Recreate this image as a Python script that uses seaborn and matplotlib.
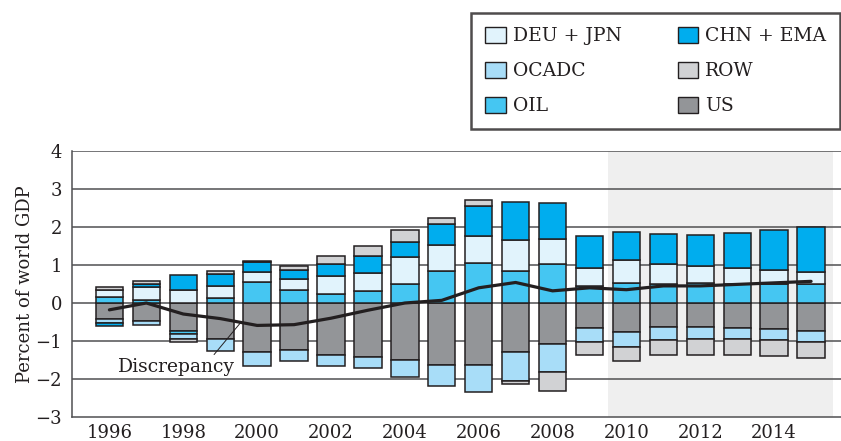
import numpy as np
import pandas as pd
import matplotlib
matplotlib.use("Agg")
import matplotlib.pyplot as plt
from matplotlib.patches import Patch
import seaborn as sns

# Current-account balances by region, percent of world GDP
years = list(range(1996, 2016))

us = [-0.42, -0.48, -0.73, -0.96, -1.29, -1.24, -1.38, -1.41, -1.51, -1.64,
      -1.63, -1.29, -1.09, -0.65, -0.76, -0.62, -0.62, -0.66, -0.69, -0.74]
oil = [0.16, 0.09, -0.08, 0.13, 0.54, 0.34, 0.23, 0.32, 0.49, 0.85,
       1.04, 0.84, 1.03, 0.45, 0.53, 0.50, 0.52, 0.49, 0.50, 0.50]
ocadc = [-0.10, -0.09, -0.13, -0.31, -0.37, -0.29, -0.27, -0.29, -0.43, -0.55,
         -0.70, -0.77, -0.73, -0.37, -0.39, -0.35, -0.33, -0.29, -0.29, -0.29]
deu_jpn = [0.18, 0.32, 0.33, 0.31, 0.27, 0.28, 0.48, 0.48, 0.72, 0.68,
           0.73, 0.83, 0.66, 0.46, 0.60, 0.53, 0.46, 0.44, 0.38, 0.32]
chn_ema = [-0.09, 0.08, 0.41, 0.33, 0.27, 0.26, 0.31, 0.44, 0.40, 0.55,
           0.78, 1.00, 0.93, 0.86, 0.73, 0.79, 0.82, 0.91, 1.04, 1.17]
row = [0.09, 0.08, -0.09, 0.08, 0.02, 0.09, 0.22, 0.26, 0.31, 0.15,
       0.15, -0.06, -0.50, -0.34, -0.37, -0.40, -0.43, -0.42, -0.41, -0.42]
discrepancy = [-0.18, 0.00, -0.29, -0.41, -0.59, -0.57, -0.40, -0.19, 0.00, 0.07,
               0.40, 0.54, 0.32, 0.40, 0.35, 0.45, 0.45, 0.49, 0.53, 0.57]

# stacking order (from zero outward)
stack_names = ["US", "OIL", "OCADC", "DEU + JPN", "CHN + EMA", "ROW"]
stack_values = [us, oil, ocadc, deu_jpn, chn_ema, row]
# legend order (two columns)
legend_names = ["DEU + JPN", "OCADC", "OIL", "CHN + EMA", "ROW", "US"]

colors = {
    "DEU + JPN": "#e1f3fc",
    "OCADC": "#a8ddf8",
    "OIL": "#45c6f2",
    "CHN + EMA": "#00adee",
    "ROW": "#d1d2d4",
    "US": "#939598",
}
ink = "#231f20"
grid_col = "#505052"

sns.set_style("white")
plt.rcParams["font.family"] = ["DejaVu Serif"]
plt.rcParams["axes.unicode_minus"] = True

fig = plt.figure(figsize=(8.41, 4.41), dpi=100)
ax = fig.add_axes([0.0853, 0.0544, 1 - 0.0853, 0.6032])

# projection period shading
ax.axvspan(2009.5, 2015.6, color="#efefef", lw=0, zorder=0.1)

for yv in range(-2, 5):
    ax.axhline(yv, color=grid_col, lw=1.1, zorder=0.5)

pos_base = np.zeros(len(years))
neg_base = np.zeros(len(years))
for name, vals in zip(stack_names, stack_values):
    v = np.asarray(vals, dtype=float)
    bottom = np.where(v >= 0, pos_base, neg_base)
    df = pd.DataFrame({"year": years, "value": v})
    sns.barplot(data=df, x="year", y="value", native_scale=True, width=0.74,
                color=colors[name], saturation=1, errorbar=None,
                bottom=bottom, edgecolor=ink, linewidth=1.1, zorder=2, ax=ax)
    pos_base += np.where(v > 0, v, 0)
    neg_base += np.where(v < 0, v, 0)

sns.lineplot(x=years, y=discrepancy, color=ink, lw=2.3, zorder=4, ax=ax)

ax.annotate("Discrepancy", xy=(1999.55, -0.52), xytext=(1997.81, -1.68),
            textcoords="data", ha="center", va="center", fontsize=13.5,
            color=ink,
            arrowprops=dict(arrowstyle="-", color=ink, lw=0.7,
                            relpos=(0.8, 1.0), shrinkA=0, shrinkB=0))

ax.set_xlim(1994.98, 2015.81)
ax.set_ylim(-3, 4)
ax.set_xticks(years)
ax.set_xticklabels([str(y) if y % 2 == 0 else "" for y in years])
ax.set_yticks(range(-3, 5))
ax.tick_params(axis="x", direction="in", length=9, width=1.1, color=grid_col,
               labelsize=13, labelcolor=ink, pad=5)
ax.tick_params(axis="y", length=0, labelsize=13, labelcolor=ink, pad=7)
ax.set_xlabel("")
ax.set_ylabel("Percent of world GDP", fontsize=13, color=ink, labelpad=1)

for side in ["top", "right"]:
    ax.spines[side].set_visible(False)
for side in ["left", "bottom"]:
    ax.spines[side].set_color(grid_col)
    ax.spines[side].set_linewidth(1.1)

handles = [Patch(facecolor=colors[n], edgecolor=ink, linewidth=1.0) for n in legend_names]
leg = fig.legend(handles, legend_names, ncol=2, loc="upper right",
                 bbox_to_anchor=(840 / 841, 1 - 13 / 441), borderaxespad=0,
                 fontsize=13.5, frameon=True, fancybox=False, shadow=False,
                 handlelength=1.1, handleheight=0.9, handletextpad=0.35,
                 labelspacing=0.89, columnspacing=3.0, borderpad=0.75)
leg.get_frame().set_edgecolor(ink)
leg.get_frame().set_linewidth(1.8)
for t in leg.get_texts():
    t.set_color(ink)

fig.savefig("out.png", dpi=100)
